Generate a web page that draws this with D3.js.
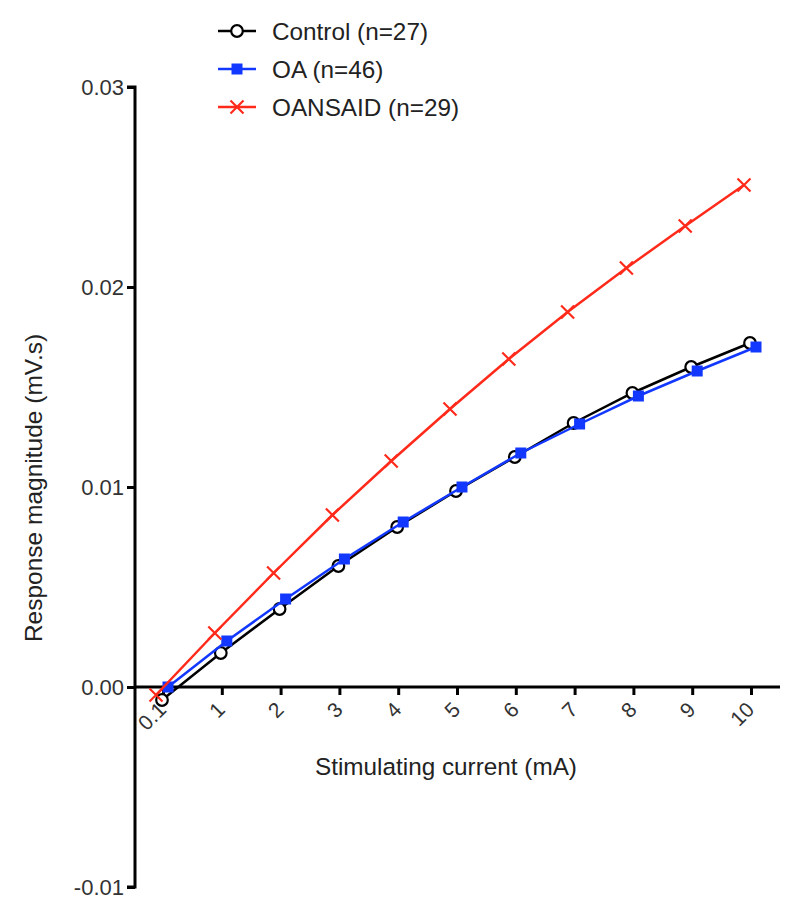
<!DOCTYPE html>
<html><head><meta charset="utf-8">
<script src="https://cdn.jsdelivr.net/npm/d3@7"></script>
<style>body{margin:0;background:#fff;} text{font-family:"Liberation Sans",Arial,Helvetica,sans-serif;}</style>
</head><body>
<svg id="c" width="800" height="917"></svg>
<script>
const categories = ["0.1","1","2","3","4","5","6","7","8","9","10"];
const controlValues = [-0.00065,0.0017,0.0039,0.00605,0.0080,0.0098,0.0115,0.0132,0.0147,0.0160,0.0172];
const oaValues      = [-0.0000,0.0023,0.0044,0.0064,0.00825,0.0100,0.0117,0.01315,0.01455,0.0158,0.0170];
const oansaidValues = [-0.0004,0.0027,0.0057,0.00860,0.01130,0.0139,0.01640,0.01875,0.02095,0.02305,0.0251];
const yTicks = [-0.01,0.00,0.01,0.02,0.03];
const seriesNames = ["Control (n=27)","OA (n=46)","OANSAID (n=29)"];

const series = [
  {name:seriesNames[0], values:controlValues, color:"#000000", marker:"circle", dx:-1},
  {name:seriesNames[1], values:oaValues, color:"#1238ff", marker:"square", dx:5},
  {name:seriesNames[2], values:oansaidValues, color:"#ff2a1a", marker:"cross", dx:-7}
];

const svg = d3.select("#c");
const x = d3.scalePoint().domain(categories).range([163,751]);
const y = d3.scaleLinear().domain([-0.01,0.03]).range([887,87]);
const axisX = 135;
const fmt = d3.formatLocale({decimal:".",thousands:",",grouping:[3],currency:["",""],minus:"-"}).format(".2f");

// Y axis
const ya = svg.append("g").attr("transform",`translate(${axisX},0)`)
  .call(d3.axisLeft(y).tickValues(yTicks).tickFormat(fmt).tickSize(8).tickPadding(3));
ya.select(".domain").attr("stroke","#000").attr("stroke-width",3).attr("d",`M-8,${y(0.03)}H0V${y(-0.01)}H-8`);
ya.selectAll(".tick line").attr("stroke","#000").attr("stroke-width",3);
ya.selectAll(".tick text").attr("font-size",22).attr("fill","#333").style("font-family","'Liberation Sans',Arial,sans-serif");

// X axis at zero
const xa = svg.append("g").attr("transform",`translate(0,${y(0)})`)
  .call(d3.axisBottom(x).tickSize(8).tickPadding(4));
xa.select(".domain").attr("stroke","#000").attr("stroke-width",3).attr("d",`M${axisX},0H780`);
xa.selectAll(".tick line").attr("stroke","#000").attr("stroke-width",3);
xa.selectAll(".tick text").attr("font-size",21).attr("fill","#333")
  .attr("text-anchor","end").attr("dy",null).attr("y",null)
  .attr("transform","translate(4,24) rotate(-45)")
  .style("font-family","'Liberation Sans',Arial,sans-serif");

// titles
svg.append("text").attr("x",446).attr("y",775).attr("text-anchor","middle").attr("font-size",24.3).attr("fill","#222").text("Stimulating current (mA)");
svg.append("text").attr("transform","translate(42,488) rotate(-90)").attr("text-anchor","middle").attr("font-size",24.5).attr("fill","#222").text("Response magnitude (mV.s)");

function drawMarker(g, type, color, cx, cy){
  if(type==="circle"){
    g.append("circle").attr("cx",cx).attr("cy",cy).attr("r",5.8).attr("fill","#fff").attr("stroke",color).attr("stroke-width",2.2);
  } else if(type==="square"){
    g.append("rect").attr("x",cx-5.5).attr("y",cy-5.5).attr("width",11).attr("height",11).attr("fill",color);
  } else {
    const s=6.5;
    g.append("path").attr("d",`M${cx-s},${cy-s}L${cx+s},${cy+s}M${cx-s},${cy+s}L${cx+s},${cy-s}`).attr("stroke",color).attr("stroke-width",2.2);
  }
}

const line = d3.line();
series.forEach(s=>{
  const pts = categories.map((c,i)=>[x(c)+s.dx, y(s.values[i])]);
  const g = svg.append("g");
  g.append("path").attr("d",line(pts)).attr("fill","none").attr("stroke",s.color).attr("stroke-width",2.5);
  pts.forEach(p=>drawMarker(g,s.marker,s.color,p[0],p[1]));
});

// legend
const lg = svg.append("g");
series.forEach((s,i)=>{
  const cy = 31 + i*38;
  lg.append("line").attr("x1",218).attr("x2",256).attr("y1",cy).attr("y2",cy).attr("stroke",s.color).attr("stroke-width",2.5);
  drawMarker(lg,s.marker,s.color,237,cy);
  lg.append("text").attr("x",272).attr("y",cy+8.5).attr("font-size",24.3).attr("fill","#222").text(s.name);
});
</script>
</body></html>
